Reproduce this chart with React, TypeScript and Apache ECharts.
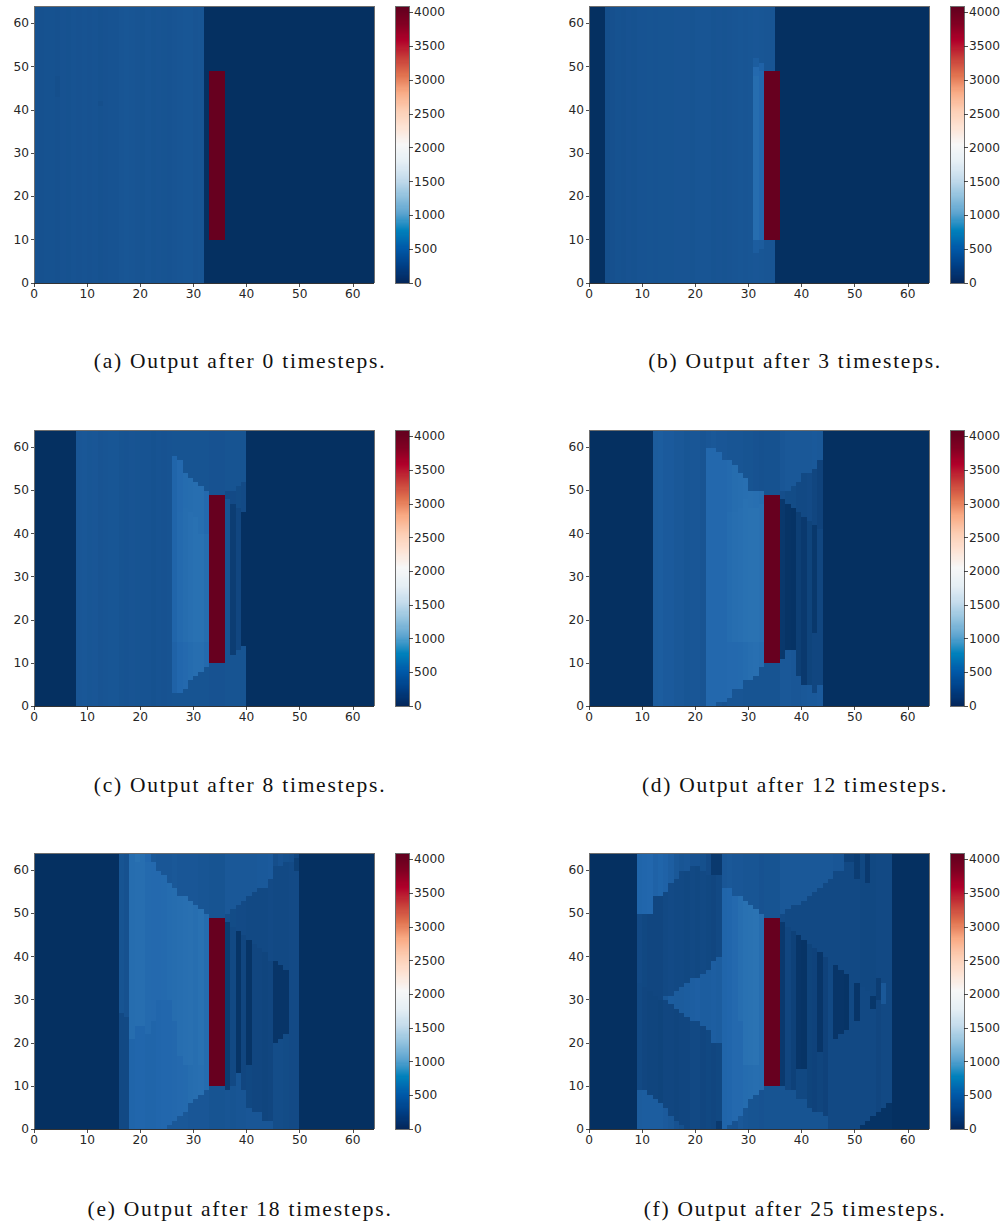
import React, { useEffect, useRef } from "react";
import * as echarts from "echarts";

// Each run list: [x0, x1, v0, y1, v1, y2, v2, ...]: columns x0..x1-1 hold v0 from y=0 to y1, v1 up to y2, ... last up to 64.
// null keeps what an earlier run painted.
type Run = (number | null)[];

const cells = Array.from({ length: 64 }, (_, i) => String(i));
const xTickLabels = [0, 10, 20, 30, 40, 50, 60];
const colorbarTicks = [0, 500, 1000, 1500, 2000, 2500, 3000, 3500, 4000];
const captions = [
  "(a) Output after 0 timesteps.",
  "(b) Output after 3 timesteps.",
  "(c) Output after 8 timesteps.",
  "(d) Output after 12 timesteps.",
  "(e) Output after 18 timesteps.",
  "(f) Output after 25 timesteps.",
];

const sourceBar: Run = [33, 36, null, 10, 4095, 49, null];

const panelA: Run[] = [
  [0, 1, 255], [1, 2, 250], [2, 4, 255], [4, 5, 250, 43, 235, 48, 250], [5, 6, 260], [6, 7, 255], [7, 8, 265], [8, 9, 260],
  [9, 10, 265], [10, 11, 260], [11, 12, 265], [12, 13, 255, 41, 235, 42, 255], [13, 14, 260], [14, 16, 265], [16, 17, 280],
  [17, 18, 285], [18, 19, 280], [19, 20, 275], [20, 21, 270], [21, 22, 280], [22, 23, 270], [23, 24, 275], [24, 25, 270],
  [25, 26, 265], [26, 27, 275], [27, 28, 280], [28, 30, 285], [30, 31, 275], [31, 32, 280], [32, 64, 0],
];

const panelB: Run[] = [
  [0, 3, 0], [3, 4, 235], [4, 5, 245], [5, 6, 255], [6, 7, 250], [7, 8, 260], [8, 9, 255], [9, 11, 265], [11, 12, 270],
  [12, 13, 265], [13, 16, 270], [16, 19, 275], [19, 20, 270], [20, 23, 280], [23, 24, 270], [24, 25, 275], [25, 26, 270],
  [26, 27, 275], [27, 28, 280], [28, 29, 285], [29, 30, 280], [30, 31, 285], [31, 32, 290, 7, 340, 10, 470, 48, 440, 50, 340, 52, 290],
  [32, 33, 285, 8, 330, 10, 420, 49, 380, 51, 285], [33, 35, 280], [35, 64, 0],
];

const panelC: Run[] = [
  [0, 8, 0], [8, 9, 290], [9, 10, 295], [10, 11, 285], [11, 12, 290], [12, 13, 275], [13, 14, 280], [14, 16, 285], [16, 17, 270],
  [17, 18, 265], [18, 19, 275], [19, 20, 270], [20, 22, 265], [22, 23, 255], [23, 24, 265], [24, 25, 260], [25, 26, 265],
  [26, 27, 270, 3, 380, 15, 400, 58, 270],
  [27, 28, 270, 3, 420, 15, 450, 45, 440, 57, 270],
  [28, 29, 270, 4, 440, 15, 470, 46, 460, 54, 270],
  [29, 30, 270, 6, 460, 15, 490, 45, 470, 53, 270],
  [30, 31, 270, 7, 480, 15, 510, 44, 480, 52, 270],
  [31, 32, 270, 8, 480, 15, 510, 40, 480, 51, 270],
  [32, 33, 270, 9, 450, 15, 470, 40, 440, 50, 270],
  [33, 36, 260],
  [36, 37, 270, 48, 200, 50, 270],
  [37, 38, 270, 12, 100, 47, 200, 50, 270],
  [38, 39, 270, 13, 170, 46, 210, 51, 270],
  [39, 40, 270, 14, 0, 45, 200, 52, 270],
  [40, 64, 0],
];

const panelD: Run[] = [
  [0, 12, 0], [12, 13, 330], [13, 14, 340], [14, 16, 320], [16, 18, 300], [18, 19, 285], [19, 21, 290], [21, 22, 275],
  [22, 23, 430, 60, 290], [23, 24, 430, 60, 300], [24, 25, 280, 1, 430, 59, 290], [25, 26, 260, 1, 430, 57, 290],
  [26, 27, 280, 2, 440, 15, 460, 45, 450, 57, 280],
  [27, 28, 280, 4, 440, 15, 480, 45, 470, 56, 280],
  [28, 29, 280, 4, 450, 15, 490, 46, 480, 54, 280],
  [29, 30, 270, 6, 460, 15, 510, 48, 490, 53, 270],
  [30, 31, 270, 6, 480, 15, 520, 46, 500, 50, 270],
  [31, 32, 270, 7, 490, 15, 520, 46, 490, 50, 260],
  [32, 33, 270, 9, 470, 15, 500, 47, 470, 50, 250],
  [33, 36, 270, 49, 255],
  [36, 37, 300, 11, 60, 48, 230, 50, 290],
  [37, 38, 300, 13, 30, 47, 210, 50, 300],
  [38, 39, 290, 13, 20, 46, 210, 51, 300],
  [39, 40, 290, 7, 110, 45, 190, 52, 300],
  [40, 41, 300, 5, 70, 44, 190, 54, 300],
  [41, 42, 310, 5, 150, 43, 200, 54, 300],
  [42, 43, 310, 3, 170, 17, 60, 42, 170, 55, 310],
  [43, 44, 320, 5, 170, 41, 140, 57, 300],
  [44, 64, 0],
];

const panelE: Run[] = [
  [0, 16, 0], [16, 17, 190, 27, 270], [17, 18, 190, 26, 250],
  [18, 19, 400, 21, 470], [19, 20, 410, 24, 480, 62, 520], [20, 21, 410, 24, 480], [21, 22, 400, 22, 450, 62, 420],
  [22, 23, 400, 25, 440, 62, 300], [23, 24, 410, 30, 440, 60, 290], [24, 25, 420, 30, 450, 59, 290],
  [25, 26, 300, 1, 420, 30, 460, 57, 290], [26, 27, 300, 2, 430, 25, 470, 56, 300], [27, 28, 300, 3, 440, 17, 480, 54, 290],
  [28, 29, 300, 4, 450, 15, 490, 54, 290], [29, 30, 290, 6, 470, 15, 500, 53, 290], [30, 31, 290, 7, 480, 52, 290],
  [31, 32, 290, 8, 490, 15, 510, 51, 280], [32, 33, 290, 9, 460, 50, 280],
  [33, 36, 270],
  [36, 37, 280, 9, 90, 48, 230, 50, 300],
  [37, 38, 270, 10, 190, 47, 210, 51, 300],
  [38, 39, 280, 13, 30, 46, 200, 52, 300],
  [39, 40, 280, 9, 170, 45, 200, 53, 300],
  [40, 41, 290, 5, 180, 15, 30, 44, 190, 54, 300],
  [41, 42, 290, 4, 170, 43, 190, 55, 300],
  [42, 43, 290, 4, 170, 42, 190, 56, 310],
  [43, 44, 290, 2, 160, 41, 190, 56, 310],
  [44, 45, 290, 2, 170, 39, 200, 58, 320],
  [45, 46, 220, 20, 40, 39, 190, 61, 230],
  [46, 47, 220, 21, 40, 38, 190, 61, 260],
  [47, 48, 210, 22, 40, 37, 190, 62, 240],
  [48, 49, 200, 36, 200, 62, 230],
  [49, 50, 200, 60, 110, 63, 170],
  [50, 64, 0],
];

const panelF: Run[] = [
  [0, 9, 0],
  [9, 10, 330, 9, 190, 34, 200, 50, 400],
  [10, 11, 340, 9, 170, 33, 180, 50, 410],
  [11, 12, 340, 8, 160, 32, 170, 50, 420],
  [12, 13, 340, 7, 160, 31, 170, 54, 380],
  [13, 14, 340, 6, 150, 30, 170, 54, 400],
  [14, 15, 320, 5, 170, 30, 300, 31, 190, 55, 380],
  [15, 16, 300, 3, 170, 29, 340, 31, 200, 57, 350],
  [16, 17, 260, 2, 160, 28, 330, 32, 190, 58, 300],
  [17, 18, 240, 1, 170, 27, 330, 33, 190, 60, 280],
  [18, 19, 170, 26, 340, 34, 180, 60, 290],
  [19, 20, 190, 25, 350, 35, 190, 61, 260],
  [20, 21, 190, 25, 360, 35, 180, 61, 260],
  [21, 22, 170, 24, 340, 36, 190, 60, 240],
  [22, 23, 180, 23, 340, 37, 180, 59, 200],
  [23, 24, 170, 20, 350, 39, 170, 59, 70],
  [24, 25, 70, 2, 180, 20, 340, 40, 190, 59, 70],
  [25, 26, 400, 56, 290],
  [26, 27, 270, 1, 410, 56, 300],
  [27, 28, 260, 2, 440, 54, 290],
  [28, 29, 300, 3, 440, 25, 480, 54, 290],
  [29, 30, 280, 5, 460, 15, 510, 53, 280],
  [30, 31, 270, 7, 470, 15, 520, 52, 280],
  [31, 32, 270, 8, 480, 15, 530, 51, 280],
  [32, 33, 260, 9, 470, 50, 260],
  [33, 36, 270],
  [36, 37, 270, 10, 70, 48, 200, 50, 300],
  [37, 38, 270, 9, 170, 47, 190, 51, 300],
  [38, 39, 270, 9, 130, 46, 190, 52, 300],
  [39, 40, 270, 7, 180, 14, 40, 45, 190, 52, 300],
  [40, 41, 270, 7, 180, 14, 30, 44, 190, 53, 300],
  [41, 42, 270, 5, 150, 43, 190, 54, 300],
  [42, 43, 270, 4, 140, 42, 190, 55, 300],
  [43, 44, 270, 4, 160, 18, 40, 41, 190, 56, 300],
  [44, 45, 270, 3, 140, 40, 190, 57, 300],
  [45, 46, 190, 39, 190, 58, 300],
  [46, 47, 190, 21, 40, 38, 190, 60, 290],
  [47, 48, 190, 22, 40, 37, 190, 60, 290],
  [48, 49, 190, 23, 30, 36, 190, 62, 130],
  [49, 50, 190, 35, 190, 62, 130],
  [50, 51, 190, 25, 40, 34, 190, 58, 100],
  [51, 52, 20, 1, 190, 33, 180, 64, 190],
  [52, 53, 20, 2, 190, 32, 180, 57, 70],
  [53, 54, 20, 3, 190, 28, 50, 31, 180],
  [54, 55, 20, 4, 170, 30, 100, 35, 190],
  [55, 56, 20, 5, 190, 29, 300, 34, 190],
  [56, 57, 20, 6, 190],
  [57, 64, 0],
];

const panels = [panelA, panelB, panelC, panelD, panelE, panelF];

const rdBu = ["#053061", "#2166ac", "#4393c3", "#92c5de", "#d1e5f0", "#f7f7f7", "#fddbc7", "#f4a582", "#d6604d", "#b2182b", "#67001f"];
const barColors = ["#04265a", "#003f86", "#0059a8", "#0080bb", "#5ba3cf", "#92c2de", "#c5dcec", "#e6eff5", "#f7f7f7", "#fde3d4", "#fccdb3", "#f9ab85", "#e0724f", "#c63d39", "#b0002a", "#7f0022", "#5f001e"];
const vmax = 4095;

function toCells(runs: Run[]) {
  const grid: number[][] = cells.map(() => cells.map(() => 0));
  for (const r of [...runs, sourceBar]) {
    const [x0, x1] = r as number[];
    for (let x = x0; x < x1; x++) {
      let y = 0;
      for (let i = 2; i < r.length; i += 2) {
        const end = i + 1 < r.length ? (r[i + 1] as number) : 64;
        const v = r[i];
        for (; y < end; y++) if (v !== null) grid[x][y] = v;
      }
    }
  }
  const out: number[][] = [];
  grid.forEach((col, x) => col.forEach((v, y) => out.push([x, y, v])));
  return out;
}

const FRAME = "#6e6e6e";
const TXT = "#262626";
const FONT = "DejaVu Sans";
const CAPTION_FONT = "Liberation Serif";

function buildOption() {
  const lefts = [34, 589];
  const tops = [6, 430, 853];
  const heights = [277, 276, 276];
  const captionY = [350, 774, 1198];
  const grid: any[] = [], xAxis: any[] = [], yAxis: any[] = [], series: any[] = [], title: any[] = [];
  const levels: number[] = [];
  for (let v = 0; v < 4096; v += 16) levels.push(v);

  const frameAxis = (gridIndex: number, position: string, extra: any = {}) => ({
    type: "value", gridIndex, position, min: 0, max: 64, z: 6,
    axisLine: { show: true, onZero: false, lineStyle: { color: FRAME, width: 1 } },
    axisTick: { show: false }, axisLabel: { show: false }, splitLine: { show: false }, ...extra,
  });

  panels.forEach((runs, i) => {
    const row = Math.floor(i / 2), col = i % 2;
    const g = grid.length;
    grid.push({ left: lefts[col], top: tops[row], width: 340, height: heights[row] });
    const cbi = g + 1;
    grid.push({ left: lefts[col] + 361, top: tops[row], width: 14, height: heights[row] });

    const n = xAxis.length;
    const tickStyle = (vals: number[]) => ({ show: true, length: 3.5, customValues: vals, lineStyle: { color: "#222", width: 0.8 } });
    const labelStyle = (vals: number[]) => ({ show: true, customValues: vals, fontFamily: FONT, fontSize: 12.2, color: TXT, margin: 5, formatter: (v: number) => String(v) });
    xAxis.push({ type: "category", gridIndex: g, data: cells, show: false });
    yAxis.push({ type: "category", gridIndex: g, data: cells, show: false });
    xAxis.push(frameAxis(g, "bottom", { axisTick: tickStyle(xTickLabels), axisLabel: labelStyle(xTickLabels), axisLine: { show: true, onZero: false, lineStyle: { color: "#333", width: 1 } } }));
    yAxis.push(frameAxis(g, "left", { axisTick: tickStyle(xTickLabels), axisLabel: labelStyle(xTickLabels) }));
    xAxis.push(frameAxis(g, "top"));
    yAxis.push(frameAxis(g, "right"));
    series.push({ type: "heatmap", xAxisIndex: n, yAxisIndex: n, data: toCells(runs), progressive: 0, silent: true, itemStyle: { borderWidth: 0 }, emphasis: { disabled: true } });

    xAxis.push({ type: "category", gridIndex: cbi, data: ["0"], show: false });
    yAxis.push({ type: "category", gridIndex: cbi, data: levels.map(String), show: false });
    xAxis.push(frameAxis(cbi, "bottom", { min: 0, max: 1 }));
    yAxis.push(frameAxis(cbi, "right", { min: 0, max: 4096, axisTick: tickStyle(colorbarTicks), axisLabel: labelStyle(colorbarTicks) }));
    xAxis.push(frameAxis(cbi, "top", { min: 0, max: 1 }));
    yAxis.push(frameAxis(cbi, "left", { min: 0, max: 4096 }));
    series.push({ type: "heatmap", xAxisIndex: n + 3, yAxisIndex: n + 3, data: levels.map((v, k) => [0, k, v]), progressive: 0, silent: true, itemStyle: { borderWidth: 0 }, emphasis: { disabled: true } });

    title.push({
      text: captions[i], left: lefts[col] + 206, top: captionY[row], textAlign: "center", padding: 0,
      textStyle: { fontFamily: CAPTION_FONT, fontWeight: "normal", fontSize: 21.5, color: "#111" },
    });
  });

  const heatIdx = series.map((_, i) => i).filter((i) => i % 2 === 0);
  const barIdx = series.map((_, i) => i).filter((i) => i % 2 === 1);
  return {
    animation: false,
    backgroundColor: "#fff",
    title, grid, xAxis, yAxis, series,
    visualMap: [
      { show: false, type: "continuous", min: 0, max: vmax, seriesIndex: heatIdx, inRange: { color: rdBu }, dimension: 2 },
      { show: false, type: "continuous", min: 0, max: vmax, seriesIndex: barIdx, inRange: { color: barColors }, dimension: 2 },
    ],
  };
}

export default function App() {
  const ref = useRef<HTMLDivElement>(null);
  useEffect(() => {
    document.body.style.margin = "0";
    const chart = echarts.init(ref.current!, undefined, { renderer: "svg" });
    chart.setOption(buildOption() as any);
    return () => chart.dispose();
  }, []);
  return (
    <>
      <style>{`text[style*="Liberation Serif"]{letter-spacing:1.75px}`}</style>
      <div ref={ref} style={{ width: 1008, height: 1225, shapeRendering: "crispEdges" }} />
    </>
  );
}
